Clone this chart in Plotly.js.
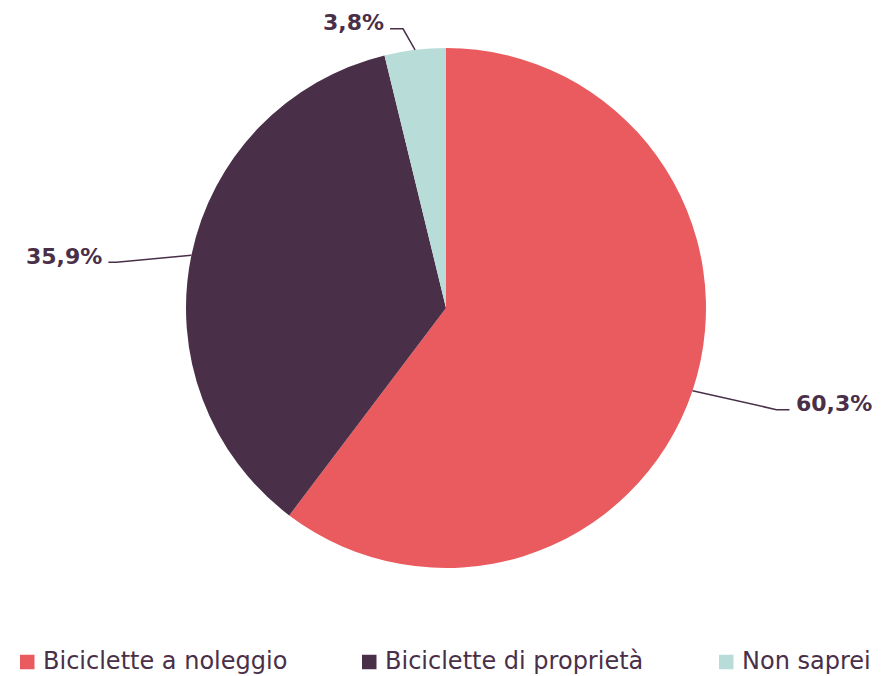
<!DOCTYPE html>
<html><head><meta charset="utf-8">
<script src="https://cdn.plot.ly/plotly-3.0.1.min.js"></script>
<style>body{margin:0;background:#fff}#chart{width:895px;height:676px}</style>
</head><body><div id="chart"></div>
<script>
const categories = ["Biciclette a noleggio", "Biciclette di proprietà", "Non saprei"];
const values = [60.3, 35.9, 3.8];
const labelTexts = ["60,3%", "35,9%", "3,8%"];
const colors = ["#E95B5E", "#4A2F48", "#B8DDD8"];
const textColor = "#4A2F48";
const fontFamily = "'DejaVu Sans', Verdana, sans-serif";

// leader-line styling (pixel offsets from slice edge to elbow, horizontal tail length, side)
const leader = [
  {dx: 84, dy: 19, tail: 13, side: "right"},
  {dx: -75, dy: 7, tail: 8, side: "left"},
  {dx: -12, dy: -21, tail: 13, side: "left"}
];
// legend entry left edges (px) and vertical centre
const legendX = [20, 362, 719];
const legendY = 662;
const swatch = 14.5;

const W = 895, H = 676;
const M = {l: 0, r: 3, t: 48, b: 108};
const pw = W - M.l - M.r, ph = H - M.t - M.b;
const cx = M.l + pw / 2, cy = M.t + ph / 2;
const R = Math.min(pw, ph) / 2;
const toPx = px => (px - M.l) / pw;
const toPy = py => 1 - (py - M.t) / ph;

const total = values.reduce((a, b) => a + b, 0);
const shapes = [], annotations = [];
let cum = 0;
values.forEach((v, i) => {
  const mid = (cum + v / 2) / total * 2 * Math.PI;
  cum += v;
  const ex = cx + R * Math.sin(mid), ey = cy - R * Math.cos(mid);
  const L = leader[i];
  const bx = ex + L.dx, by = ey + L.dy;
  const tx = L.side === "right" ? bx + L.tail : bx - L.tail;
  shapes.push({
    type: "path", xref: "paper", yref: "paper",
    path: `M ${toPx(ex)} ${toPy(ey)} L ${toPx(bx)} ${toPy(by)} L ${toPx(tx)} ${toPy(by)}`,
    line: {color: textColor, width: 1.5}
  });
  annotations.push({
    xref: "paper", yref: "paper", showarrow: false,
    x: toPx(L.side === "right" ? tx + 4 : tx - 4), y: toPy(by - 6),
    xanchor: L.side === "right" ? "left" : "right", yanchor: "middle",
    text: "<b>" + labelTexts[i] + "</b>",
    font: {family: fontFamily, size: 22, color: textColor}
  });
});

// legend (drawn as swatches + text)
categories.forEach((c, i) => {
  const x0 = legendX[i];
  shapes.push({
    type: "rect", xref: "paper", yref: "paper",
    x0: toPx(x0), x1: toPx(x0 + swatch),
    y0: toPy(legendY - swatch / 2), y1: toPy(legendY + swatch / 2),
    fillcolor: colors[i], line: {width: 0}
  });
  annotations.push({
    xref: "paper", yref: "paper", showarrow: false,
    x: toPx(x0 + swatch + 6), y: toPy(legendY - 1),
    xanchor: "left", yanchor: "middle",
    text: c,
    font: {family: fontFamily, size: 24, color: textColor}
  });
});

const data = [{
  type: "pie",
  labels: categories,
  values: values,
  sort: false,
  direction: "clockwise",
  rotation: 0,
  textinfo: "none",
  hoverinfo: "label+percent",
  marker: {colors: colors, line: {width: 0}}
}];

const layout = {
  width: W, height: H,
  margin: M,
  paper_bgcolor: "#fff",
  showlegend: false,
  shapes: shapes,
  annotations: annotations
};
Plotly.newPlot("chart", data, layout, {displayModeBar: false});
</script></body></html>
